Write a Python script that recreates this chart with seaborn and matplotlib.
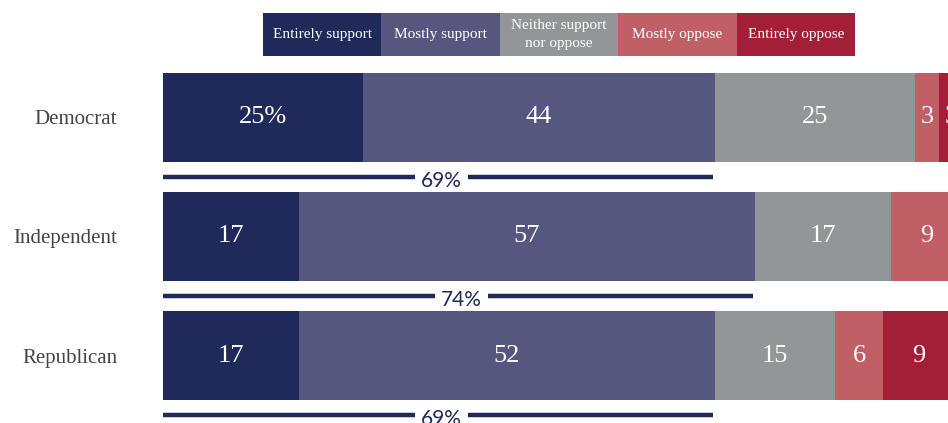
import matplotlib
matplotlib.use("Agg")
import matplotlib.pyplot as plt
import seaborn as sns
import pandas as pd
import numpy as np

# Survey responses by party (percent)
parties = ["Democrat", "Independent", "Republican"]
responses = ["Entirely support", "Mostly support", "Neither support\nnor oppose",
             "Mostly oppose", "Entirely oppose"]
entirely_support = [25, 17, 17]
mostly_support = [44, 57, 52]
neither = [25, 17, 15]
mostly_oppose = [3, 9, 6]
entirely_oppose = [3, 0, 9]
support_totals = [69, 74, 69]

colors = ["#1f2a5a", "#55577f", "#939699", "#c05f65", "#a21f37"]

sns.set_theme(style="white")
plt.rcParams["font.family"] = ["Liberation Serif", "DejaVu Serif"]

series = [entirely_support, mostly_support, neither, mostly_oppose, entirely_oppose]
wide = pd.DataFrame({r: v for r, v in zip(responses, series)}, index=parties)
cum = wide.cumsum(axis=1)

W, H = 948, 423
fig = plt.figure(figsize=(W / 100, H / 100), dpi=100)
left = 163 / W
ax = fig.add_axes([left, 0, 1 - left, 1])

# stacked bars: draw cumulative totals from the outermost segment inward
for r, col in reversed(list(zip(responses, colors))):
    sns.barplot(x=cum[r].values, y=parties, color=col, orient="h", ax=ax,
                width=0.748, saturation=1, linewidth=0)

# value labels centred in each segment
ypos = np.arange(len(parties))
for i, r in enumerate(responses):
    starts = (cum[r] - wide[r]).values
    for j, v in enumerate(wide[r].values):
        if v <= 0:
            continue
        txt = f"{int(v)}%" if (i == 0 and j == 0) else f"{int(v)}"
        ax.text(starts[j] + v / 2, ypos[j], txt, ha="center", va="center",
                color="white", fontsize=19)

# support brackets beneath each bar
for j, tot in enumerate(support_totals):
    y = ypos[j] + 0.5
    mid = tot / 2 + 0.3
    ax.plot([0, mid - 3.3], [y, y], color="#1f2a5a", lw=3.2,
            solid_capstyle="butt")
    ax.plot([mid + 3.3, tot - 0.3], [y, y], color="#1f2a5a", lw=3.2,
            solid_capstyle="butt")
    ax.text(mid, y + 0.03, f"{tot}%", ha="center", va="center",
            color="#1f2a5a", fontsize=15, family=["Lato", "DejaVu Sans"])

ax.set_xlim(0, (W - 163) / 8.0)
ax.set_ylim(2.567, -0.987)
ax.set_yticks(ypos)
ax.set_yticklabels(parties, fontsize=15, color="#444444")
ax.tick_params(axis="y", length=0, pad=33)
ax.set_xticks([])
ax.set_xlabel("")
ax.set_ylabel("")
for s in ax.spines.values():
    s.set_visible(False)
ax.patch.set_alpha(0)

# legend strip along the top
lax = fig.add_axes([263 / W, 1 - 56 / H, (855 - 263) / W, 43 / H])
lax.set_xlim(0, len(responses))
lax.set_ylim(0, 1)
lax.axis("off")
for k, (lab, col) in enumerate(zip(responses, colors)):
    lax.add_patch(plt.Rectangle((k, 0), 1, 1, color=col, lw=0))
    lax.text(k + 0.5, 0.5, lab, ha="center", va="center", color="white",
             fontsize=11, linespacing=1.4)

fig.savefig("out.png", dpi=100)
